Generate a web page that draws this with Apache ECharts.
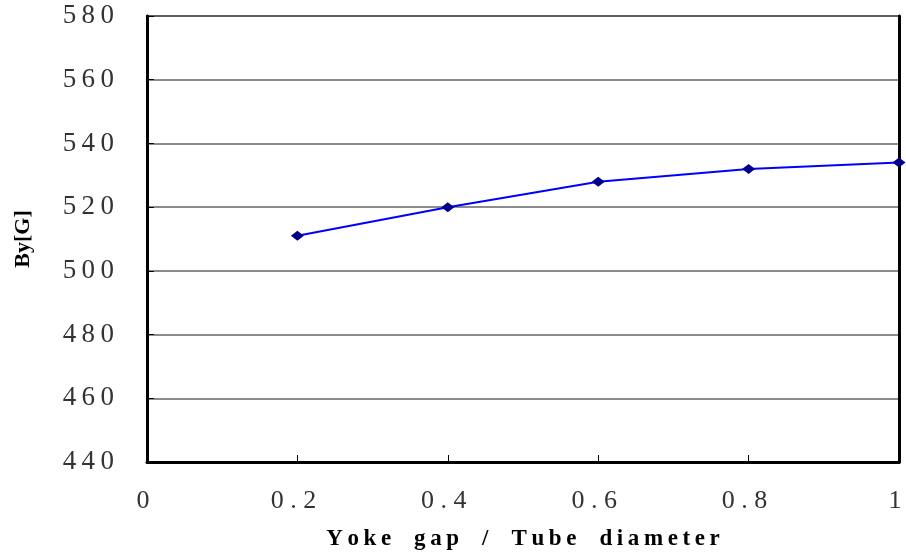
<!DOCTYPE html>
<html><head><meta charset="utf-8">
<script src="https://cdn.jsdelivr.net/npm/echarts@6/dist/echarts.min.js"></script>
<style>html,body{margin:0;padding:0;background:#fff}#c{width:906px;height:557px}</style>
</head><body><div id="c"></div>
<script>
const xValues = [0.2, 0.4, 0.6, 0.8, 1.0];
const byValues = [511, 520, 528, 532, 534];
const xTitle = 'Yoke gap / Tube diameter';
const yTitle = 'By[G]';

function spaced(s, sep) { return String(s).split('').join(sep); }
const chart = echarts.init(document.getElementById('c'));
chart.setOption({
  animation: false,
  grid: { left: 147, right: 7, top: 16, bottom: 95, show: true, borderColor: '#444', borderWidth: 2 },
  xAxis: {
    type: 'value', min: 0, max: 1, interval: 0.2,
    name: xTitle.split(' ').map(w => spaced(w, '\u2009')).join('\u2002\u2002'),
    nameLocation: 'middle', nameGap: 66,
    nameTextStyle: { fontFamily: 'Liberation Serif', fontWeight: 'bold', fontSize: 23, color: '#000' },
    axisLine: { show: true, lineStyle: { color: '#000', width: 3 } },
    axisTick: { show: true, inside: true, length: 7, lineStyle: { color: '#000', width: 1 } },
    axisLabel: { fontFamily: 'Liberation Serif', fontSize: 26, color: '#333', margin: 26,
      padding: [0, 8, 0, 0],
      formatter: v => spaced(+v.toFixed(1) + '', '\u2005') },
    splitLine: { show: false }
  },
  yAxis: [{
    type: 'value', min: 440, max: 580, interval: 20,
    name: yTitle, nameLocation: 'middle', nameGap: 113, nameRotate: 90,
    nameTextStyle: { fontFamily: 'Liberation Serif', fontWeight: 'bold', fontSize: 22, color: '#000' },
    axisLine: { show: true, lineStyle: { color: '#000', width: 3 } },
    axisTick: { show: true, inside: true, length: 7, lineStyle: { color: '#000', width: 1 } },
    axisLabel: { fontFamily: 'Liberation Serif', fontSize: 27, color: '#333', margin: 33,
      formatter: v => spaced(v, '\u2009') },
    splitLine: { show: true, lineStyle: { color: '#666', width: 1.5 } }
  }, {
    type: 'value', min: 440, max: 580, interval: 20, position: 'right',
    axisLine: { show: true, lineStyle: { color: '#000', width: 3 } },
    axisTick: { show: false }, axisLabel: { show: false }, splitLine: { show: false }
  }],
  series: [{
    type: 'line',
    data: xValues.map((x, i) => [x, byValues[i]]),
    symbol: 'diamond', symbolSize: [13, 10],
    lineStyle: { color: '#0000FF', width: 2 },
    itemStyle: { color: '#00008B' },
    clip: false
  }]
});
</script></body></html>
